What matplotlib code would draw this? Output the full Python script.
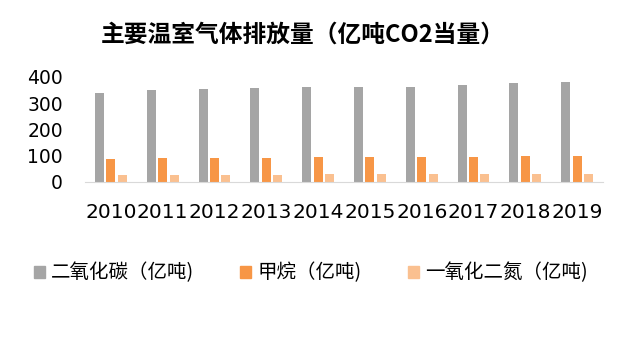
import numpy as np
import matplotlib
matplotlib.use("Agg")
from matplotlib import pyplot as plt
from matplotlib.patches import Patch

plt.rcParams['font.family'] = ['Noto Sans CJK SC', 'DejaVu Sans']

years = ['2010', '2011', '2012', '2013', '2014', '2015', '2016', '2017', '2018', '2019']
co2 = [337, 349, 353, 357, 360, 360, 360, 368, 376, 380]
ch4 = [87, 91, 91, 91, 95, 95, 95, 95, 99, 99]
n2o = [25, 25, 25, 25, 29, 29, 29, 29, 29, 29]
names = ['二氧化碳（亿吨)', '甲烷（亿吨)', '一氧化二氮（亿吨)']
colors = ['#A5A5A5', '#F79646', '#FAC090']

fig = plt.figure(figsize=(6.21, 3.53), dpi=100)
ax = fig.add_axes([85 / 621, 1 - 181.7 / 353, 518 / 621, (181.7 - 77) / 353])

x = np.arange(len(years))
w = 0.175
gap = 0.045
for i, (vals, c) in enumerate(zip([co2, ch4, n2o], colors)):
    ax.bar(x + (i - 1) * (w + gap), vals, width=w, color=c)

ax.set_xlim(-0.5, len(years) - 0.5)
ax.set_ylim(0, 400)
ax.set_yticks([0, 100, 200, 300, 400])
ax.set_xticks(x)
ax.set_xticklabels(years)
ax.tick_params(axis='both', length=0)
ax.tick_params(axis='x', pad=15)
ax.tick_params(axis='y', pad=16)
for lab in ax.get_xticklabels():
    lab.set_fontfamily('DejaVu Sans')
    lab.set_fontsize(14.5)
for lab in ax.get_yticklabels():
    lab.set_fontfamily('DejaVu Sans')
    lab.set_fontsize(13.5)
for s in ['top', 'right', 'left']:
    ax.spines[s].set_visible(False)
ax.spines['bottom'].set_color('#D9D9D9')

fig.text(303 / 621, 1 - 35 / 353, '主要温室气体排放量（亿吨CO2当量）', ha='center', va='center',
         fontsize=17.1, fontweight='bold')

handles = [Patch(color=c) for c in colors]
fig.legend(handles, names, loc='center', bbox_to_anchor=(310.5 / 621, 1 - 273 / 353), ncol=3,
           frameon=False, fontsize=14, handlelength=0.57, handleheight=0.57,
           handletextpad=0.3, columnspacing=2.4, borderpad=0)

fig.savefig('out.png', dpi=100)
